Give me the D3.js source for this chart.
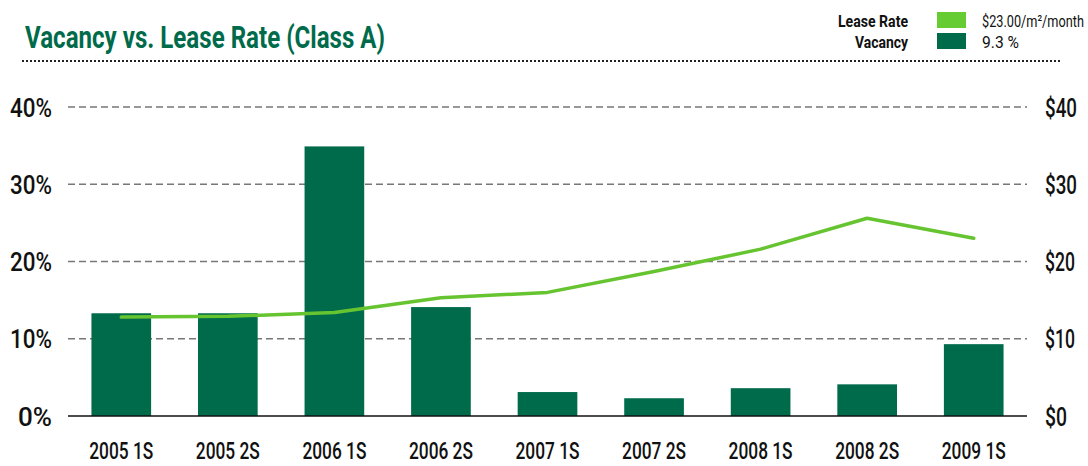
<!DOCTYPE html>
<html><head><meta charset="utf-8">
<script src="https://cdn.jsdelivr.net/npm/d3@7"></script>
<style>
body{margin:0;background:#fff;}
svg{display:block;}
text{font-family:Roboto,"Liberation Sans",sans-serif;}
</style></head>
<body><svg id="c" width="1088" height="466"></svg>
<script>
const categories = ["2005 1S","2005 2S","2006 1S","2006 2S","2007 1S","2007 2S","2008 1S","2008 2S","2009 1S"];
const vacancy = [13.3, 13.3, 34.9, 14.1, 3.1, 2.3, 3.6, 4.1, 9.3];
const leaseRate = [12.8, 12.9, 13.4, 15.3, 16.0, 18.7, 21.6, 25.6, 23.0];
const leftTicks = [0, 10, 20, 30, 40];
const rightTicks = [0, 10, 20, 30, 40];
const legendLabels = ["Lease Rate", "Vacancy"];
const legendValues = ["$23.00/m²/month", "9.3 %"];
const legendColors = ["#66CC33", "#006B4B"];
const title = "Vacancy vs. Lease Rate (Class A)";

function fit(sel, w){ sel.attr("textLength", w).attr("lengthAdjust","spacingAndGlyphs"); }
// condensed via horizontal scale transform (keeps the real box narrow)
function squeeze(sel, x0, y0, w){
  const w0 = sel.node().getComputedTextLength();
  const s = w / w0;
  sel.attr("x",0).attr("y",0).attr("transform",`translate(${x0},${y0}) scale(${s},1)`);
}

const svg = d3.select("#c");
const m = {left:68, right:1027, top:107, bottom:416};
const x = d3.scaleBand().domain(categories).range([m.left, m.right]).paddingInner(0.44).paddingOuter(0.22);
const yL = d3.scaleLinear().domain([0,40]).range([m.bottom, m.top]);
const yR = d3.scaleLinear().domain([0,40]).range([m.bottom, m.top]);

// title
svg.append("text").attr("x",25).attr("y",48).attr("fill","#006B4B")
  .style("font-size","32px").style("font-weight","bold").text(title).call(fit,360);
// dotted rule
svg.append("line").attr("x1",22).attr("x2",1060).attr("y1",61).attr("y2",61)
  .attr("stroke","#222").attr("stroke-width",2).attr("stroke-dasharray","2,2");

// legend
const lw = [70, 53], vw = [102, 37];
legendLabels.forEach((lab,i)=>{
  const top = 12 + i*21;
  svg.append("text").attr("x",908).attr("y",top+15).attr("text-anchor","end")
    .style("font-size","17px").style("font-weight","bold").attr("fill","#111").text(lab).call(fit,lw[i]);
  svg.append("rect").attr("x",937).attr("y",top).attr("width",29).attr("height",16).attr("fill",legendColors[i]);
  const t = svg.append("text").style("font-size","17px").attr("fill","#111").text(legendValues[i]);
  squeeze(t, 982, top+15, vw[i]);
});

// gridlines
svg.append("g").selectAll("line").data(leftTicks.filter(t=>t>0)).join("line")
  .attr("x1",m.left).attr("x2",m.right).attr("y1",d=>yL(d)).attr("y2",d=>yL(d))
  .attr("stroke","#777").attr("stroke-width",1.5).attr("stroke-dasharray","7,4");

// left axis
const axL = d3.axisLeft(yL).tickValues(leftTicks).tickFormat(d=>d+"%").tickSize(0).tickPadding(16);
const gL = svg.append("g").attr("transform",`translate(${m.left},0)`).call(axL);
gL.select(".domain").remove();
gL.selectAll("text").style("font-size","25px").style("font-weight","500").attr("fill","#111").attr("dy","0.36em")
  .each(function(d){ fit(d3.select(this), d===0 ? 34 : 42); });

// right axis
const axR = d3.axisRight(yR).tickValues(rightTicks).tickFormat(d=>"$"+d).tickSize(0).tickPadding(18);
const gR = svg.append("g").attr("transform",`translate(${m.right},0)`).call(axR);
gR.select(".domain").remove();
gR.selectAll("text").style("font-size","25px").style("font-weight","500").attr("fill","#111").attr("dy","0.36em")
  .each(function(d){ fit(d3.select(this), d===0 ? 22 : (d<=20 ? 30 : 32)); });

// bars
svg.append("g").selectAll("rect").data(categories).join("rect")
  .attr("x",d=>x(d)).attr("width",x.bandwidth())
  .attr("y",(d,i)=>yL(vacancy[i])).attr("height",(d,i)=>yL(0)-yL(vacancy[i]))
  .attr("fill","#006B4B");

// baseline
svg.append("line").attr("x1",m.left).attr("x2",m.right).attr("y1",yL(0)).attr("y2",yL(0))
  .attr("stroke","#111").attr("stroke-width",1.5);

// x axis
const axX = d3.axisBottom(x).tickSize(0).tickPadding(0);
const gX = svg.append("g").attr("transform",`translate(0,${m.bottom})`).call(axX);
gX.select(".domain").remove();
gX.selectAll("text").style("font-size","23px").style("font-weight","500").attr("fill","#111")
  .attr("dy",null).attr("y",43).call(fit,64);

// line
const line = d3.line().x((d,i)=>x(categories[i])+x.bandwidth()/2).y(d=>yR(d));
svg.append("path").datum(leaseRate).attr("d",line).attr("fill","none")
  .attr("stroke","#66C430").attr("stroke-width",3.5).attr("stroke-linejoin","round").attr("stroke-linecap","round");
</script></body></html>
